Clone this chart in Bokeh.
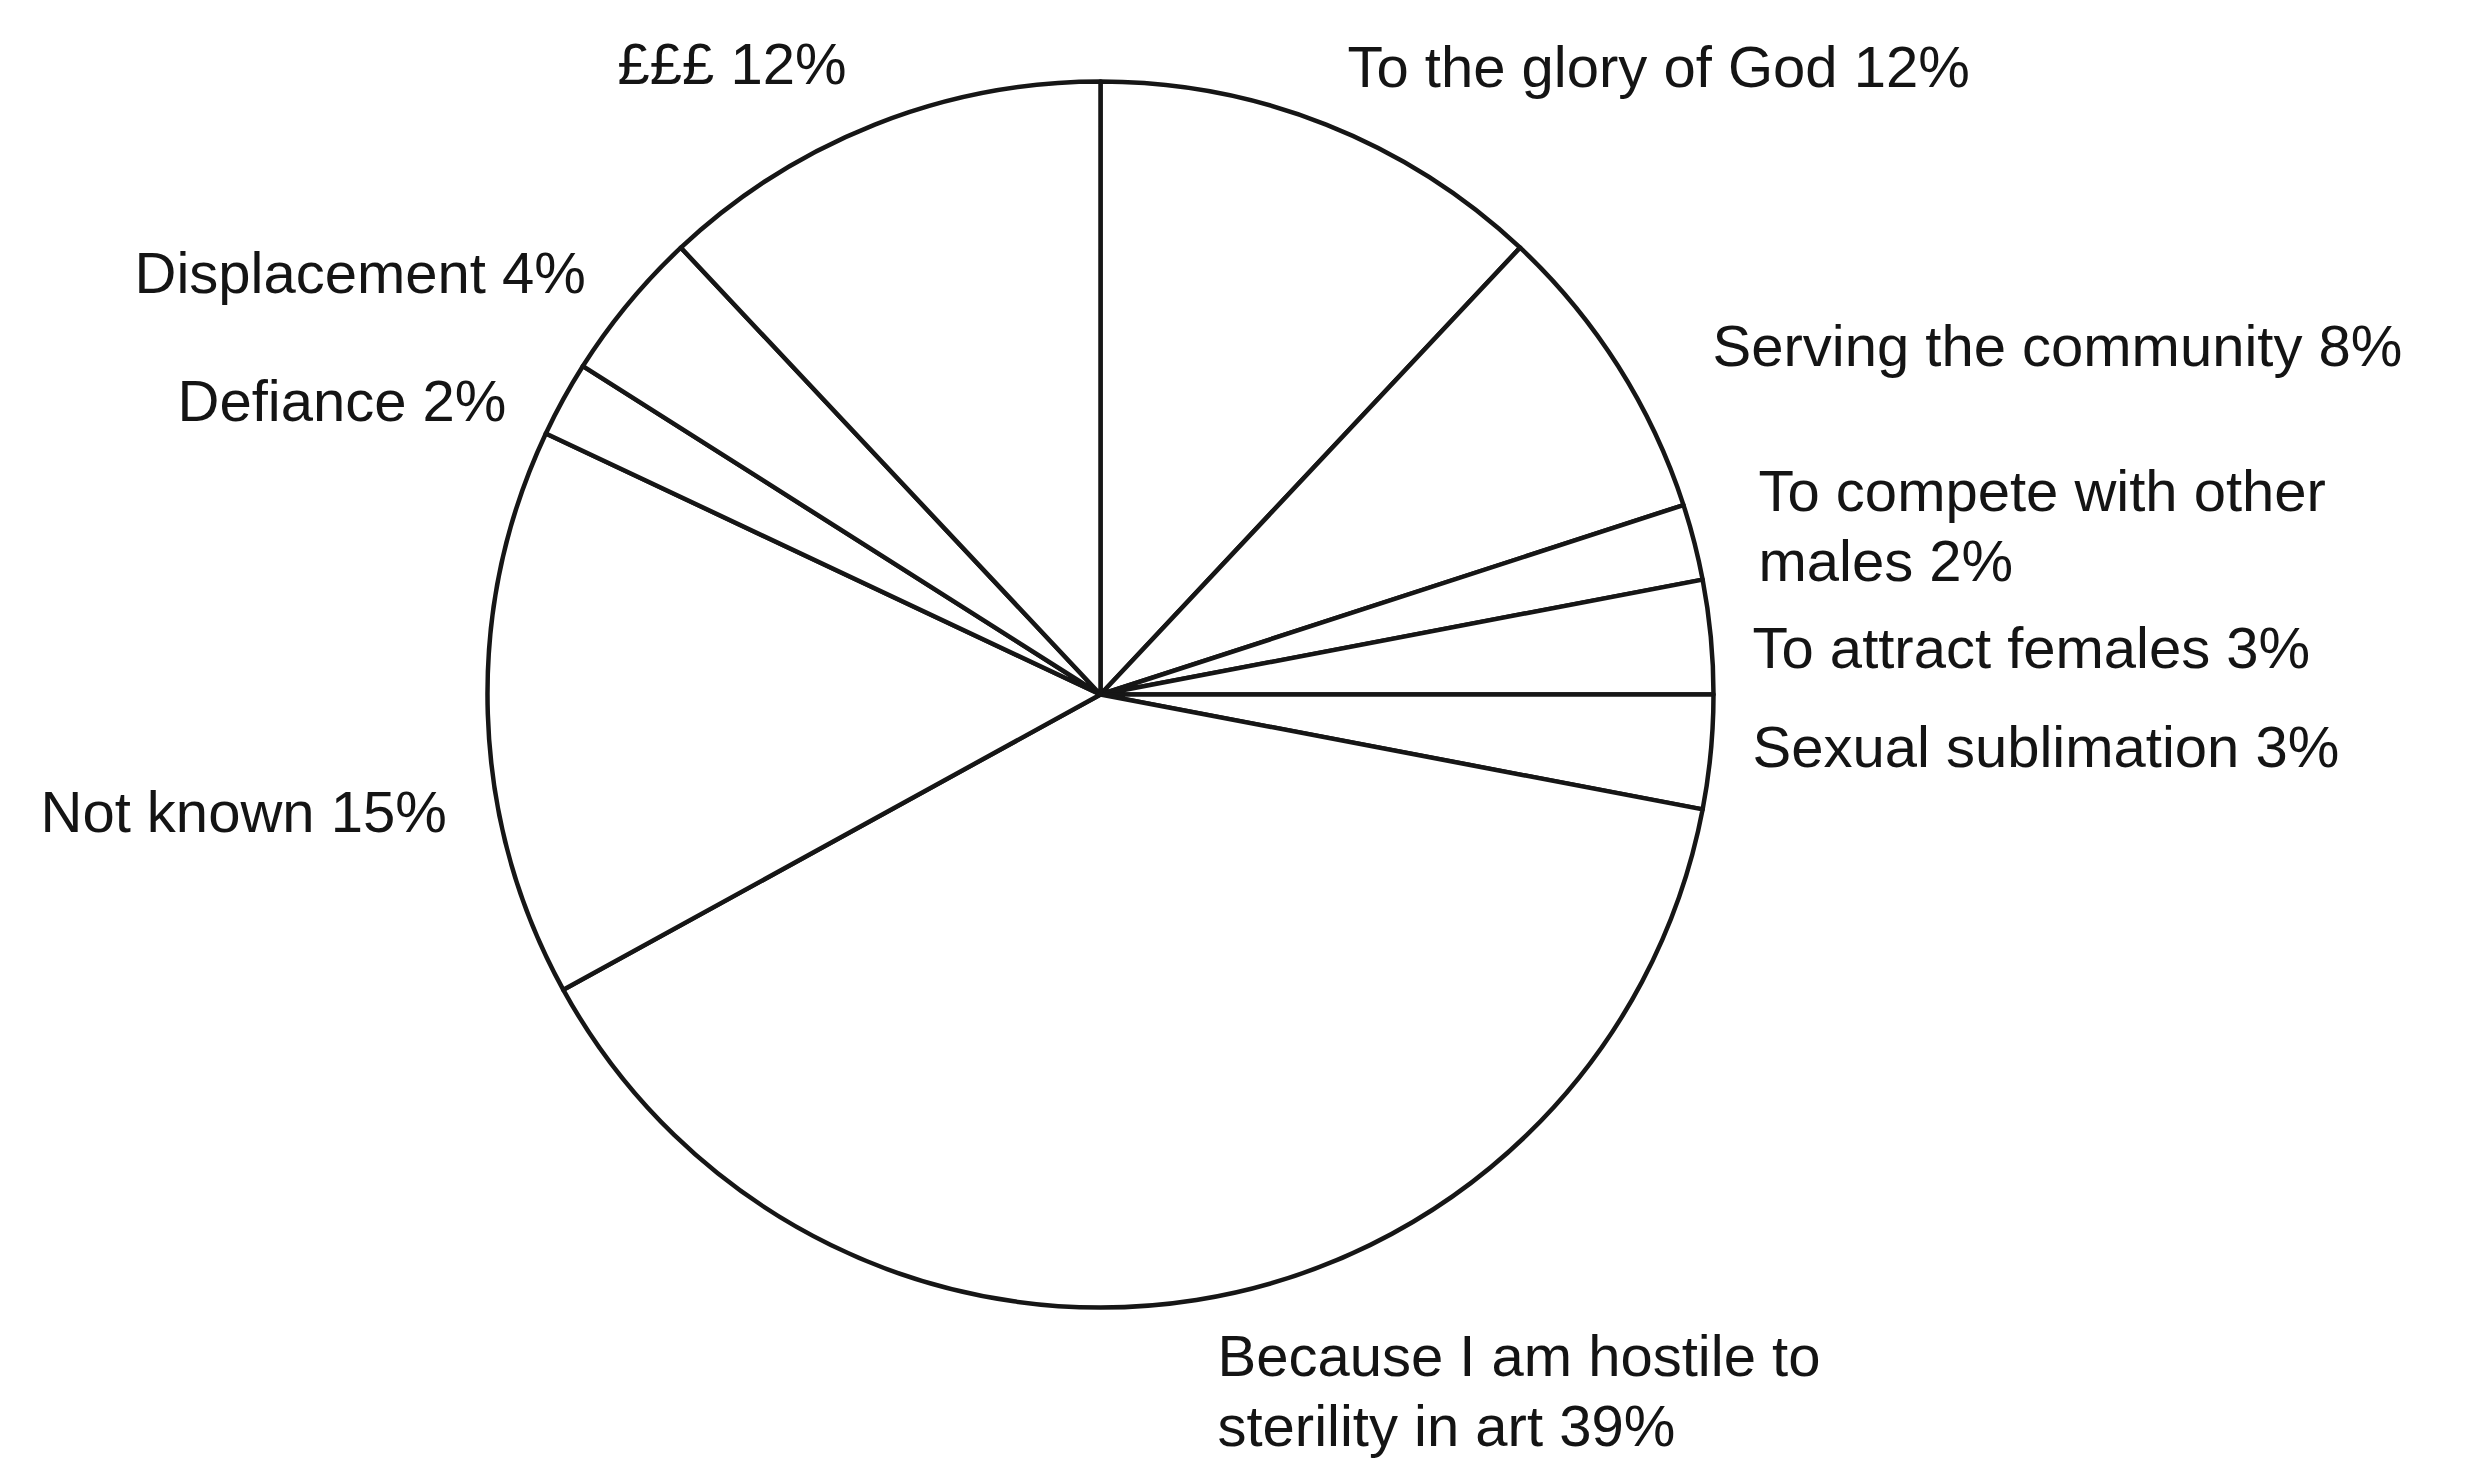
import math
from bokeh.plotting import figure
from bokeh.models import ColumnDataSource, Range1d
from bokeh.core.properties import value
from bokeh.embed import file_html
from bokeh.resources import INLINE

# ---- data (clockwise from 12 o'clock) ----
categories = [
    "To the glory of God",
    "Serving the community",
    "To compete with other\nmales",
    "To attract females",
    "Sexual sublimation",
    "Because I am hostile to\nsterility in art",
    "Not known",
    "Defiance",
    "Displacement",
    "£££",
]
shares = [12, 8, 2, 3, 3, 39, 15, 2, 4, 12]

# ---- layout (page pixels, y measured from the top) ----
W, H = 2479, 1468
CX, CY, R = 1100, 694, 613
label_pos = [  # left edge x, vertical centre of first line
    (1347, 66),
    (1712, 345),
    (1758, 490),
    (1752, 647),
    (1752, 746),
    (1217, 1355),
    (40, 811),
    (177, 400),
    (134, 272),
    (617, 63),
]
LINE_STEP = 70
FONT_PX = 58

p = figure(width=W, height=H, output_backend="svg", toolbar_location=None,
           x_range=Range1d(0, W), y_range=Range1d(0, H),
           x_axis_location=None, y_axis_location=None,
           min_border=0, outline_line_color=None,
           background_fill_color="white", border_fill_color="white")
p.grid.visible = False

total = float(sum(shares))
starts, ends = [], []
cum = 0.0
for s in shares:
    a0 = math.pi / 2 - 2 * math.pi * cum / total
    cum += s
    a1 = math.pi / 2 - 2 * math.pi * cum / total
    starts.append(a0)
    ends.append(a1)

wsrc = ColumnDataSource(dict(x=[CX] * len(shares), y=[H - CY] * len(shares),
                             start=starts, end=ends, cat=categories, share=shares))
p.wedge(x="x", y="y", radius=R, start_angle="start", end_angle="end",
        direction="clock", source=wsrc, fill_color="white",
        line_color="#161616", line_width=4.5, line_join="round")

tx, ty, tt = [], [], []
for cat, s, (lx, ly) in zip(categories, shares, label_pos):
    lines = (cat + " " + str(s) + "%").split("\n")
    for i, ln in enumerate(lines):
        tx.append(lx)
        ty.append(H - (ly + i * LINE_STEP))
        tt.append(ln)

tsrc = ColumnDataSource(dict(x=tx, y=ty, t=tt))
p.text(x="x", y="y", text="t", source=tsrc, text_font=value("Liberation Sans"),
       text_font_size=f"{FONT_PX}px", text_color="#141414",
       text_align="left", text_baseline="middle")

open("out.html", "w").write(file_html(p, INLINE))
